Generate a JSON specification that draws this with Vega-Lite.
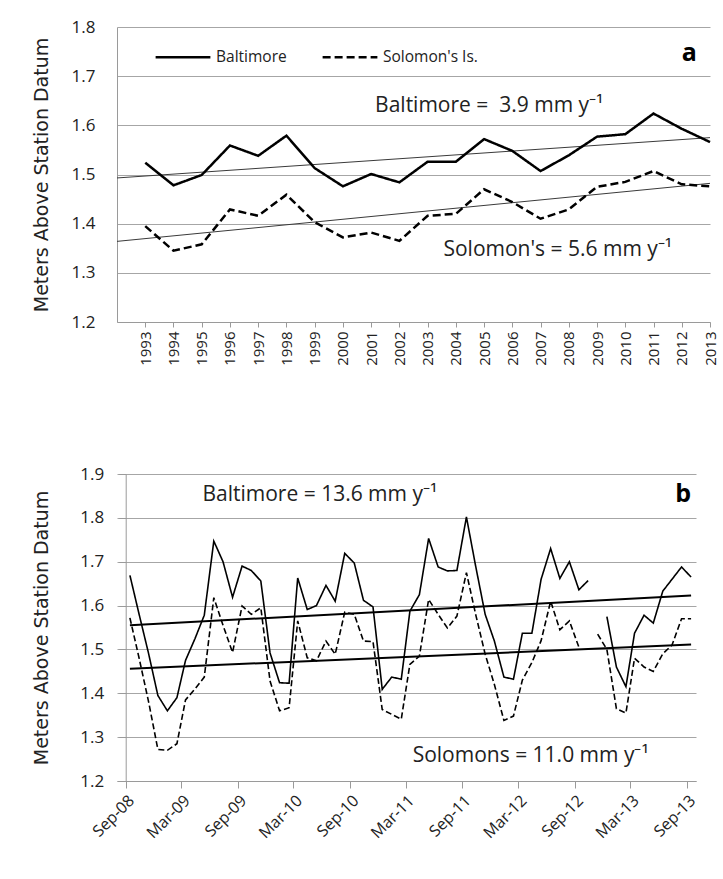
{
  "$schema": "https://vega.github.io/schema/vega-lite/v6.json",
  "background": "white",
  "padding": {"left": 32, "top": 18, "right": 5, "bottom": 5},
  "columns": 1,
  "align": "none",
  "spacing": 99,
  "datasets": {
    "annual": [
      {"year": 1993, "Baltimore": 1.524, "Solomons": 1.395},
      {"year": 1994, "Baltimore": 1.478, "Solomons": 1.345},
      {"year": 1995, "Baltimore": 1.499, "Solomons": 1.358},
      {"year": 1996, "Baltimore": 1.559, "Solomons": 1.429},
      {"year": 1997, "Baltimore": 1.538, "Solomons": 1.416},
      {"year": 1998, "Baltimore": 1.579, "Solomons": 1.459},
      {"year": 1999, "Baltimore": 1.513, "Solomons": 1.403},
      {"year": 2000, "Baltimore": 1.476, "Solomons": 1.372},
      {"year": 2001, "Baltimore": 1.501, "Solomons": 1.382},
      {"year": 2002, "Baltimore": 1.484, "Solomons": 1.365},
      {"year": 2003, "Baltimore": 1.526, "Solomons": 1.416},
      {"year": 2004, "Baltimore": 1.526, "Solomons": 1.420},
      {"year": 2005, "Baltimore": 1.572, "Solomons": 1.470},
      {"year": 2006, "Baltimore": 1.548, "Solomons": 1.444},
      {"year": 2007, "Baltimore": 1.507, "Solomons": 1.410},
      {"year": 2008, "Baltimore": 1.539, "Solomons": 1.429},
      {"year": 2009, "Baltimore": 1.577, "Solomons": 1.475},
      {"year": 2010, "Baltimore": 1.582, "Solomons": 1.485},
      {"year": 2011, "Baltimore": 1.624, "Solomons": 1.507},
      {"year": 2012, "Baltimore": 1.593, "Solomons": 1.480},
      {"year": 2013, "Baltimore": 1.566, "Solomons": 1.476}
    ],
    "trendA": [
      {"year": 1992, "station": "Baltimore", "level": 1.493},
      {"year": 2013, "station": "Baltimore", "level": 1.575},
      {"year": 1992, "station": "Solomons", "level": 1.364},
      {"year": 2013, "station": "Solomons", "level": 1.482}
    ],
    "notesA": [
      {"year": 2001.14, "level": 1.64, "label": "Baltimore = \u00a03.9 mm y⁻¹"},
      {"year": 2003.56, "level": 1.346, "label": "Solomon's = 5.6 mm y⁻¹"}
    ],
    "tagA": [{"year": 2012.27, "level": 1.748, "label": "a"}],
    "monthly": [
      {"date": "2008-09-15T00:00", "Baltimore": 1.669, "Solomons": 1.572},
      {"date": "2008-10-15T00:00", "Baltimore": 1.58, "Solomons": 1.48},
      {"date": "2008-11-15T00:00", "Baltimore": 1.49, "Solomons": 1.38},
      {"date": "2008-12-15T00:00", "Baltimore": 1.395, "Solomons": 1.272},
      {"date": "2009-01-15T00:00", "Baltimore": 1.36, "Solomons": 1.27},
      {"date": "2009-02-15T00:00", "Baltimore": 1.39, "Solomons": 1.285},
      {"date": "2009-03-15T00:00", "Baltimore": 1.475, "Solomons": 1.385},
      {"date": "2009-04-15T00:00", "Baltimore": 1.525, "Solomons": 1.41},
      {"date": "2009-05-15T00:00", "Baltimore": 1.578, "Solomons": 1.437},
      {"date": "2009-06-15T00:00", "Baltimore": 1.747, "Solomons": 1.618},
      {"date": "2009-07-15T00:00", "Baltimore": 1.70, "Solomons": 1.555},
      {"date": "2009-08-15T00:00", "Baltimore": 1.619, "Solomons": 1.493},
      {"date": "2009-09-15T00:00", "Baltimore": 1.69, "Solomons": 1.599},
      {"date": "2009-10-15T00:00", "Baltimore": 1.68, "Solomons": 1.58},
      {"date": "2009-11-15T00:00", "Baltimore": 1.656, "Solomons": 1.595},
      {"date": "2009-12-15T00:00", "Baltimore": 1.492, "Solomons": 1.428},
      {"date": "2010-01-15T00:00", "Baltimore": 1.424, "Solomons": 1.36},
      {"date": "2010-02-15T00:00", "Baltimore": 1.423, "Solomons": 1.367},
      {"date": "2010-03-15T00:00", "Baltimore": 1.663, "Solomons": 1.565},
      {"date": "2010-04-15T00:00", "Baltimore": 1.591, "Solomons": 1.481},
      {"date": "2010-05-15T00:00", "Baltimore": 1.600, "Solomons": 1.474},
      {"date": "2010-06-15T00:00", "Baltimore": 1.646, "Solomons": 1.519},
      {"date": "2010-07-15T00:00", "Baltimore": 1.610, "Solomons": 1.489},
      {"date": "2010-08-15T00:00", "Baltimore": 1.719, "Solomons": 1.585},
      {"date": "2010-09-15T00:00", "Baltimore": 1.697, "Solomons": 1.580},
      {"date": "2010-10-15T00:00", "Baltimore": 1.612, "Solomons": 1.519},
      {"date": "2010-11-15T00:00", "Baltimore": 1.597, "Solomons": 1.518},
      {"date": "2010-12-15T00:00", "Baltimore": 1.409, "Solomons": 1.363},
      {"date": "2011-01-15T00:00", "Baltimore": 1.437, "Solomons": 1.352},
      {"date": "2011-02-15T00:00", "Baltimore": 1.432, "Solomons": 1.341},
      {"date": "2011-03-15T00:00", "Baltimore": 1.587, "Solomons": 1.466},
      {"date": "2011-04-15T00:00", "Baltimore": 1.625, "Solomons": 1.485},
      {"date": "2011-05-15T00:00", "Baltimore": 1.753, "Solomons": 1.614},
      {"date": "2011-06-15T00:00", "Baltimore": 1.688, "Solomons": 1.580},
      {"date": "2011-07-15T00:00", "Baltimore": 1.679, "Solomons": 1.549},
      {"date": "2011-08-15T00:00", "Baltimore": 1.680, "Solomons": 1.576},
      {"date": "2011-09-15T00:00", "Baltimore": 1.802, "Solomons": 1.675},
      {"date": "2011-10-15T00:00", "Baltimore": 1.69, "Solomons": 1.58},
      {"date": "2011-11-15T00:00", "Baltimore": 1.58, "Solomons": 1.489},
      {"date": "2011-12-15T00:00", "Baltimore": 1.519, "Solomons": 1.42},
      {"date": "2012-01-15T00:00", "Baltimore": 1.437, "Solomons": 1.338},
      {"date": "2012-02-15T00:00", "Baltimore": 1.432, "Solomons": 1.348},
      {"date": "2012-03-15T00:00", "Baltimore": 1.537, "Solomons": 1.43},
      {"date": "2012-04-15T00:00", "Baltimore": 1.537, "Solomons": 1.47},
      {"date": "2012-05-15T00:00", "Baltimore": 1.66, "Solomons": 1.52},
      {"date": "2012-06-15T00:00", "Baltimore": 1.73, "Solomons": 1.61},
      {"date": "2012-07-15T00:00", "Baltimore": 1.662, "Solomons": 1.545},
      {"date": "2012-08-15T00:00", "Baltimore": 1.70, "Solomons": 1.565},
      {"date": "2012-09-15T00:00", "Baltimore": 1.636, "Solomons": 1.505},
      {"date": "2012-10-15T00:00", "Baltimore": 1.657, "Solomons": null},
      {"date": "2012-11-15T00:00", "Baltimore": null, "Solomons": 1.535},
      {"date": "2012-12-15T00:00", "Baltimore": 1.575, "Solomons": 1.50},
      {"date": "2013-01-15T00:00", "Baltimore": 1.46, "Solomons": 1.365},
      {"date": "2013-02-15T00:00", "Baltimore": 1.415, "Solomons": 1.355},
      {"date": "2013-03-15T00:00", "Baltimore": 1.537, "Solomons": 1.48},
      {"date": "2013-04-15T00:00", "Baltimore": 1.578, "Solomons": 1.46},
      {"date": "2013-05-15T00:00", "Baltimore": 1.56, "Solomons": 1.45},
      {"date": "2013-06-15T00:00", "Baltimore": 1.633, "Solomons": 1.49},
      {"date": "2013-07-15T00:00", "Baltimore": 1.66, "Solomons": 1.51},
      {"date": "2013-08-15T00:00", "Baltimore": 1.688, "Solomons": 1.57},
      {"date": "2013-09-15T00:00", "Baltimore": 1.665, "Solomons": 1.57}
    ],
    "trendB": [
      {"date": "2008-09-15T00:00", "station": "Baltimore", "level": 1.555},
      {"date": "2013-09-15T00:00", "station": "Baltimore", "level": 1.623},
      {"date": "2008-09-15T00:00", "station": "Solomons", "level": 1.456},
      {"date": "2013-09-15T00:00", "station": "Solomons", "level": 1.511}
    ],
    "notesB": [
      {"date": "2009-05-09T00:00", "level": 1.853, "label": "Baltimore = 13.6 mm y⁻¹"},
      {"date": "2011-03-24T00:00", "level": 1.257, "label": "Solomons = 11.0 mm y⁻¹"}
    ],
    "tagB": [{"date": "2013-08-20T00:00", "level": 1.854, "label": "b"}]
  },
  "concat": [
    {
      "width": 593,
      "height": 295,
      "encoding": {
        "x": {
          "field": "year", "type": "quantitative",
          "scale": {"domain": [1992, 2013], "nice": false, "zero": false},
          "axis": {
            "values": [1993,1994,1995,1996,1997,1998,1999,2000,2001,2002,2003,2004,2005,2006,2007,2008,2009,2010,2011,2012,2013],
            "format": "d", "labelAngle": -90, "grid": false, "tickSize": 5,
            "labelFontSize": 15, "labelPadding": 4, "title": null
          }
        },
        "y": {
          "field": "level", "type": "quantitative",
          "scale": {"domain": [1.2, 1.8], "nice": false, "zero": false},
          "axis": {
            "values": [1.2, 1.3, 1.4, 1.5, 1.6, 1.7, 1.8],
            "format": ".1f", "tickSize": 0, "labelPadding": 22, "labelFontSize": 17,
            "title": "Meters Above Station Datum", "titleFont": "DejaVu Sans",
            "titleFontSize": 19, "titlePadding": 20
          }
        }
      },
      "layer": [
        {
          "data": {"name": "trendA"},
          "mark": {"type": "line", "color": "#3a3a3a", "strokeWidth": 1},
          "encoding": {"detail": {"field": "station", "type": "nominal"}}
        },
        {
          "data": {"name": "annual"},
          "transform": [{"fold": ["Baltimore", "Solomons"], "as": ["station", "level"]}],
          "mark": {"type": "line", "color": "black", "strokeWidth": 2.5},
          "encoding": {
            "strokeDash": {
              "field": "station", "type": "nominal",
              "scale": {"domain": ["Baltimore", "Solomons"], "range": [[1, 0], [8, 4]]},
              "legend": {
                "orient": "none", "legendX": 37, "legendY": 1, "direction": "horizontal",
                "title": null, "symbolType": "stroke", "symbolSize": 3000,
                "symbolStrokeWidth": 2.5, "symbolStrokeColor": "black",
                "labelFont": "Open Sans", "labelFontSize": 15.5, "labelColor": "#222",
                "labelOffset": 4, "columnPadding": 30,
                "labelExpr": "datum.label == 'Solomons' ? \"Solomon's Is.\" : datum.label"
              }
            }
          }
        },
        {
          "data": {"name": "notesA"},
          "mark": {"type": "text", "align": "left", "baseline": "middle", "font": "Open Sans", "fontSize": 21, "color": "#222"},
          "encoding": {"text": {"field": "label"}}
        },
        {
          "data": {"name": "tagA"},
          "mark": {"type": "text", "align": "center", "baseline": "middle", "font": "Open Sans", "fontSize": 25, "fontWeight": "bold", "color": "black"},
          "encoding": {"text": {"field": "label"}}
        }
      ]
    },
    {
      "width": 579,
      "height": 307,
      "encoding": {
        "x": {
          "field": "date", "type": "temporal",
          "scale": {"domain": [{"year": 2008, "month": 8, "date": 4}, {"year": 2013, "month": 10, "date": 1}], "nice": false},
          "axis": {
            "values": [
              {"year": 2008, "month": 9, "date": 1}, {"year": 2009, "month": 3, "date": 1},
              {"year": 2009, "month": 9, "date": 1}, {"year": 2010, "month": 3, "date": 1},
              {"year": 2010, "month": 9, "date": 1}, {"year": 2011, "month": 3, "date": 1},
              {"year": 2011, "month": 9, "date": 1}, {"year": 2012, "month": 3, "date": 1},
              {"year": 2012, "month": 9, "date": 1}, {"year": 2013, "month": 3, "date": 1},
              {"year": 2013, "month": 9, "date": 1}
            ],
            "format": "%b-%y", "labelAngle": -45, "grid": false, "tickSize": 7,
            "labelFontSize": 16, "labelPadding": 4, "title": null
          }
        },
        "y": {
          "field": "level", "type": "quantitative",
          "scale": {"domain": [1.2, 1.9], "nice": false, "zero": false},
          "axis": {
            "values": [1.2, 1.3, 1.4, 1.5, 1.6, 1.7, 1.8, 1.9],
            "format": ".1f", "tickSize": 7, "labelPadding": 15, "labelFontSize": 17,
            "offset": -8.7,
            "title": "Meters Above Station Datum", "titleFont": "DejaVu Sans",
            "titleFontSize": 19, "titlePadding": 28
          }
        }
      },
      "layer": [
        {
          "data": {"name": "trendB"},
          "mark": {"type": "line", "color": "black", "strokeWidth": 2},
          "encoding": {"detail": {"field": "station", "type": "nominal"}}
        },
        {
          "data": {"name": "monthly"},
          "transform": [{"fold": ["Baltimore", "Solomons"], "as": ["station", "level"]}],
          "mark": {"type": "line", "color": "black", "strokeWidth": 1.6, "invalid": "break-paths-show-domains"},
          "encoding": {
            "strokeDash": {
              "field": "station", "type": "nominal",
              "scale": {"domain": ["Baltimore", "Solomons"], "range": [[1, 0], [6, 3]]},
              "legend": null
            }
          }
        },
        {
          "data": {"name": "notesB"},
          "mark": {"type": "text", "align": "left", "baseline": "middle", "font": "Open Sans", "fontSize": 21, "color": "#222"},
          "encoding": {"text": {"field": "label"}}
        },
        {
          "data": {"name": "tagB"},
          "mark": {"type": "text", "align": "center", "baseline": "middle", "font": "Open Sans", "fontSize": 25, "fontWeight": "bold", "color": "black"},
          "encoding": {"text": {"field": "label"}}
        }
      ],
      "resolve": {"scale": {"strokeDash": "independent"}}
    }
  ],
  "resolve": {"scale": {"strokeDash": "independent"}, "legend": {"strokeDash": "independent"}},
  "config": {
    "font": "Open Sans",
    "view": {"stroke": null},
    "axis": {
      "gridColor": "#a6a6a6", "gridWidth": 1, "domainColor": "#9a9a9a", "tickColor": "#9a9a9a",
      "labelColor": "#222", "titleColor": "#222", "titleFontWeight": "normal", "labelFont": "Open Sans"
    }
  }
}
